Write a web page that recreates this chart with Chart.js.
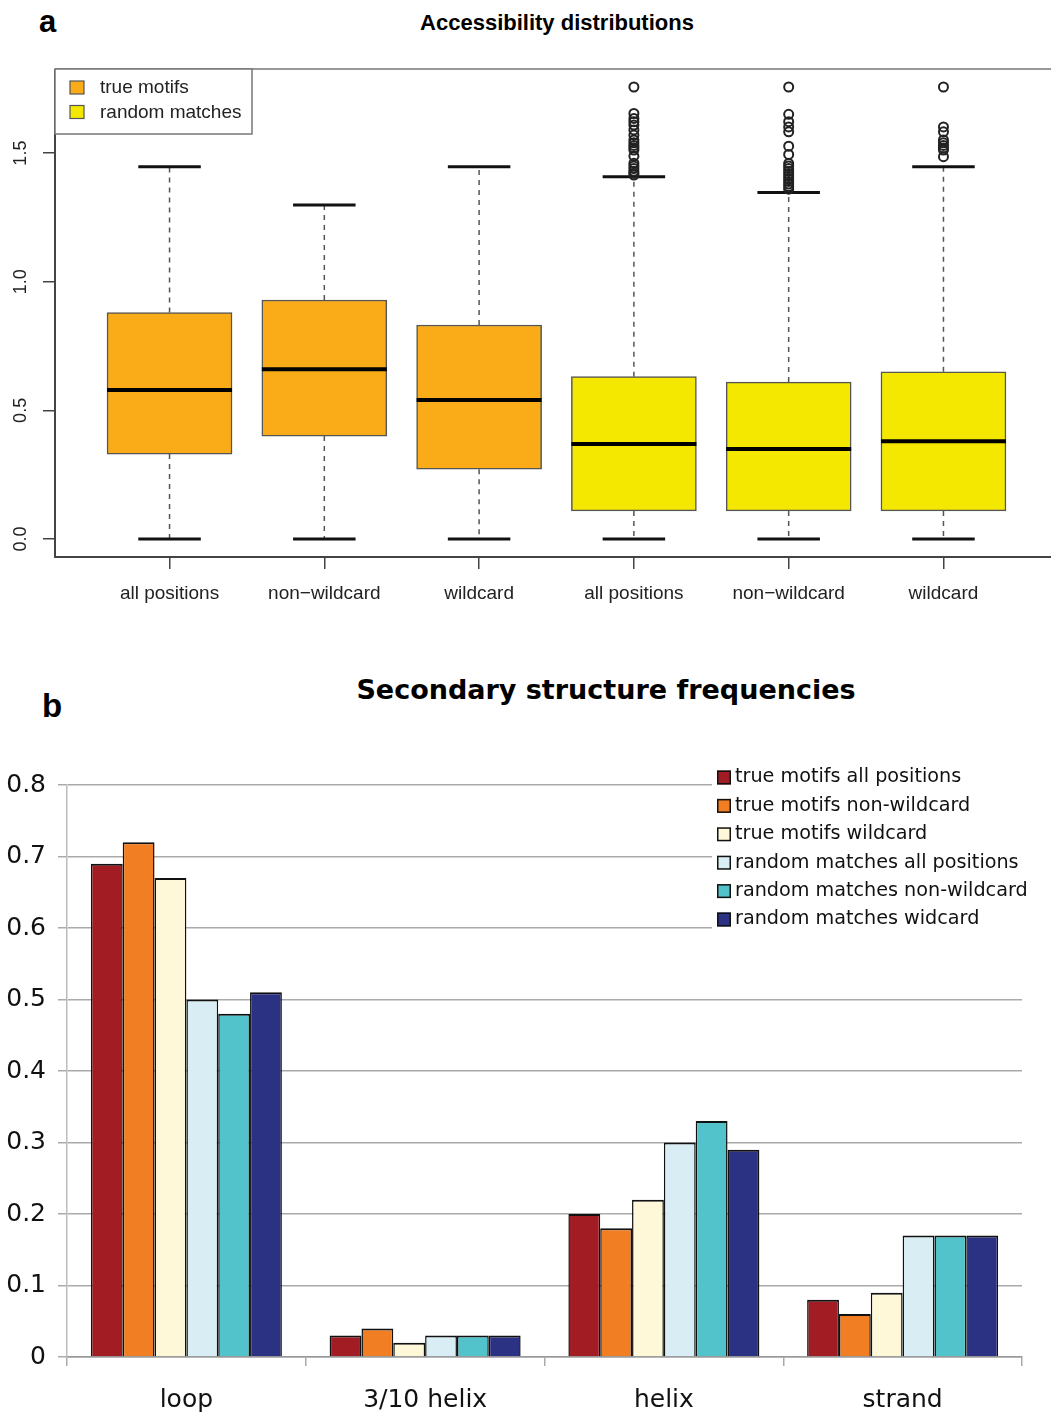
<!DOCTYPE html>
<html>
<head>
<meta charset="utf-8">
<script src="https://cdn.jsdelivr.net/npm/chart.js@4.4.1/dist/chart.umd.min.js"></script>
<style>
  html, body { margin: 0; padding: 0; background: #fff; width: 1051px; height: 1414px; overflow: hidden; }
  #wrap { position: relative; width: 1051px; height: 1414px; overflow: hidden; }
  .txt { position: absolute; white-space: nowrap; color: #000; line-height: 1; }
  canvas { position: absolute; left: 0; }
</style>
</head>
<body>
<div id="wrap">
  <div class="txt" style="left:39px; top:4px; font: bold 31px 'Liberation Sans', Arial, sans-serif;">a</div>
  <div class="txt" style="left:0; width:1114px; text-align:center; top:10px; font: bold 22px 'Liberation Sans', Arial, sans-serif;">Accessibility distributions</div>
  <canvas id="boxChart" width="1070" height="640" style="top:0;"></canvas>

  <div class="txt" style="left:42px; top:687px; font: bold 33px 'Liberation Sans', Arial, sans-serif;">b</div>
  <div class="txt" style="left:0; width:1212px; text-align:center; top:674px; font: bold 27px 'DejaVu Sans', Verdana, sans-serif;">Secondary structure frequencies</div>
  <canvas id="ssChart" width="1051" height="674" style="top:740px;"></canvas>
</div>

<script>
// --- panel a: accessibility boxplots ---
const boxLabels = ['all positions', 'non\u2212wildcard', 'wildcard', 'all positions', 'non\u2212wildcard', 'wildcard'];
const boxGroups = ['true motifs', 'random matches'];
const boxGroupIndex = [0, 0, 0, 1, 1, 1];
const boxLow = [0, 0, 0, 0, 0, 0];
const boxQ1 = [0.33, 0.40, 0.271, 0.109, 0.109, 0.109];
const boxMedian = [0.579, 0.66, 0.54, 0.369, 0.35, 0.38];
const boxQ3 = [0.88, 0.929, 0.832, 0.631, 0.61, 0.65];
const boxHigh = [1.447, 1.298, 1.447, 1.408, 1.347, 1.447];
const boxOutliers = [
  [],
  [],
  [],
  [1.757, 1.654, 1.635, 1.622, 1.609, 1.59, 1.57, 1.551, 1.54, 1.53, 1.521, 1.512, 1.488, 1.461, 1.45, 1.44, 1.43, 1.422, 1.415],
  [1.757, 1.651, 1.622, 1.602, 1.583, 1.527, 1.495, 1.46, 1.45, 1.44, 1.43, 1.42, 1.41, 1.40, 1.39, 1.38, 1.37, 1.36],
  [1.757, 1.602, 1.583, 1.551, 1.54, 1.53, 1.52, 1.512, 1.486],
];
const boxTicks = [0, 0.5, 1.0, 1.5];
const groupColors = ['#FAAC18', '#F4E800'];

// --- panel b: secondary structure frequencies ---
const ssCategories = ['loop', '3/10 helix', 'helix', 'strand'];
const ssSeries = [
  'true motifs all positions',
  'true motifs non-wildcard',
  'true motifs wildcard',
  'random matches all positions',
  'random matches non-wildcard',
  'random matches widcard',
];
const ssTrueAll = [0.69, 0.03, 0.20, 0.08];
const ssTrueNonWild = [0.72, 0.04, 0.18, 0.06];
const ssTrueWild = [0.67, 0.02, 0.22, 0.09];
const ssRandAll = [0.50, 0.03, 0.30, 0.17];
const ssRandNonWild = [0.48, 0.03, 0.33, 0.17];
const ssRandWild = [0.51, 0.03, 0.29, 0.17];
const ssColors = ['#A11C23', '#F17E22', '#FEF8D8', '#D8EEF4', '#53C3CB', '#2B3284'];

const FONT_A = "'Liberation Sans', Arial, sans-serif";
const FONT_B = "'DejaVu Sans', Verdana, sans-serif";

// whiskers, medians, outliers, frame, rotated y labels, legend
const boxExtras = {
  id: 'boxExtras',
  afterDatasetsDraw(chart) {
    const { ctx, chartArea: area, scales: { x, y } } = chart;
    const bars = chart.getDatasetMeta(0).data;
    ctx.save();

    boxLabels.forEach((lbl, i) => {
      const cx = x.getPixelForValue(i + 1);
      const w = bars[i].width;
      // dashed whiskers
      ctx.strokeStyle = '#555';
      ctx.lineWidth = 1.5;
      ctx.setLineDash([5, 5]);
      ctx.beginPath();
      ctx.moveTo(cx, y.getPixelForValue(boxQ3[i]));
      ctx.lineTo(cx, y.getPixelForValue(boxHigh[i]));
      ctx.moveTo(cx, y.getPixelForValue(boxQ1[i]));
      ctx.lineTo(cx, y.getPixelForValue(boxLow[i]));
      ctx.stroke();
      ctx.setLineDash([]);
      // caps
      ctx.strokeStyle = '#111';
      ctx.lineWidth = 3;
      ctx.beginPath();
      ctx.moveTo(cx - w / 4, y.getPixelForValue(boxHigh[i]));
      ctx.lineTo(cx + w / 4, y.getPixelForValue(boxHigh[i]));
      ctx.moveTo(cx - w / 4, y.getPixelForValue(boxLow[i]));
      ctx.lineTo(cx + w / 4, y.getPixelForValue(boxLow[i]));
      ctx.stroke();
      // median
      ctx.lineWidth = 4;
      ctx.strokeStyle = '#000';
      ctx.beginPath();
      ctx.moveTo(cx - w / 2, y.getPixelForValue(boxMedian[i]));
      ctx.lineTo(cx + w / 2, y.getPixelForValue(boxMedian[i]));
      ctx.stroke();
      // outliers
      ctx.lineWidth = 2;
      ctx.strokeStyle = '#222';
      boxOutliers[i].forEach(v => {
        ctx.beginPath();
        ctx.arc(cx, y.getPixelForValue(v), 4.5, 0, Math.PI * 2);
        ctx.stroke();
      });
    });

    // plot frame
    ctx.lineWidth = 2;
    ctx.strokeStyle = '#999';
    ctx.beginPath();
    ctx.moveTo(area.left, area.top);
    ctx.lineTo(area.right, area.top);
    ctx.stroke();
    ctx.strokeStyle = '#444';
    ctx.beginPath();
    ctx.moveTo(area.left, area.top);
    ctx.lineTo(area.left, area.bottom);
    ctx.lineTo(area.right, area.bottom);
    ctx.stroke();

    // rotated y tick labels
    ctx.fillStyle = '#222';
    ctx.font = '18px ' + FONT_A;
    ctx.textAlign = 'center';
    ctx.textBaseline = 'middle';
    y.ticks.forEach(t => {
      ctx.save();
      ctx.translate(21, y.getPixelForValue(t.value));
      ctx.rotate(-Math.PI / 2);
      ctx.fillText(t.value.toFixed(1), 0, 0);
      ctx.restore();
    });

    // legend
    ctx.fillStyle = '#fff';
    ctx.fillRect(area.left, area.top, 197, 65);
    ctx.strokeStyle = '#777';
    ctx.lineWidth = 1.5;
    ctx.strokeRect(area.left, area.top, 197, 65);
    ctx.font = '19px ' + FONT_A;
    ctx.textAlign = 'left';
    boxGroups.forEach((g, k) => {
      const ry = area.top + 19 + k * 24.5;
      ctx.fillStyle = groupColors[k];
      ctx.fillRect(area.left + 15, ry - 7, 14, 13);
      ctx.strokeStyle = '#555';
      ctx.lineWidth = 1.2;
      ctx.strokeRect(area.left + 15, ry - 7, 14, 13);
      ctx.fillStyle = '#222';
      ctx.fillText(g, area.left + 45, ry);
    });
    ctx.restore();
  },
};

new Chart(document.getElementById('boxChart'), {
  type: 'bar',
  data: {
    datasets: [{
      data: boxLabels.map((l, i) => ({ x: i + 1, y: [boxQ1[i], boxQ3[i]] })),
      backgroundColor: boxGroupIndex.map(g => groupColors[g]),
      borderColor: '#555',
      borderWidth: 1.5,
      borderSkipped: false,
      barThickness: 125,
    }],
  },
  options: {
    responsive: false,
    animation: false,
    devicePixelRatio: 1,
    layout: { padding: { top: 69, right: 12, left: 0, bottom: 0 } },
    plugins: { legend: { display: false }, tooltip: { enabled: false } },
    scales: {
      x: {
        type: 'linear',
        min: 0.26,
        max: 6.74,
        offset: false,
        afterBuildTicks: s => { s.ticks = boxLabels.map((l, i) => ({ value: i + 1 })); },
        afterFit: s => { s.height = 83; },
        grid: { drawOnChartArea: false, offset: false, tickLength: 12, color: '#444', lineWidth: 1.5 },
        border: { display: false },
        ticks: {
          callback: v => boxLabels[v - 1],
          font: { family: FONT_A, size: 19 },
          color: '#222',
          padding: 13,
          maxRotation: 0,
          autoSkip: false,
        },
      },
      y: {
        min: -0.07,
        max: 1.827,
        afterBuildTicks: s => { s.ticks = boxTicks.map(v => ({ value: v })); },
        afterFit: s => { s.width = 55; },
        grid: { drawOnChartArea: false, tickLength: 12, color: '#444', lineWidth: 1.5 },
        border: { display: false },
        ticks: { display: false },
      },
    },
  },
  plugins: [boxExtras],
});

// legend for panel b, drawn over the top gridlines
const ssLegend = {
  id: 'ssLegend',
  afterDatasetsDraw(chart) {
    const { ctx } = chart;
    ctx.save();
    ctx.fillStyle = '#fff';
    ctx.fillRect(712, 25, 339, 170);
    ctx.font = '19.2px ' + FONT_B;
    ctx.textAlign = 'left';
    ctx.textBaseline = 'middle';
    ssSeries.forEach((name, k) => {
      const ry = 37.5 + k * 28.4;
      ctx.fillStyle = ssColors[k];
      ctx.fillRect(717, ry - 7, 14, 14);
      ctx.strokeStyle = '#111';
      ctx.lineWidth = 1.5;
      ctx.strokeRect(717.75, ry - 6.25, 12.5, 12.5);
      ctx.fillStyle = '#111';
      ctx.fillText(name, 735, ry);
    });
    ctx.restore();
  },
};

const ssValues = [ssTrueAll, ssTrueNonWild, ssTrueWild, ssRandAll, ssRandNonWild, ssRandWild];

new Chart(document.getElementById('ssChart'), {
  type: 'bar',
  data: {
    labels: ssCategories,
    datasets: ssValues.map((vals, k) => ({
      label: ssSeries[k],
      data: vals,
      backgroundColor: ssColors[k],
      borderColor: '#111',
      borderWidth: { top: 2, left: 1.5, right: 1.5, bottom: 0 },
      borderSkipped: false,
      categoryPercentage: 0.8,
      barPercentage: 1.0,
    })),
  },
  options: {
    responsive: false,
    animation: false,
    devicePixelRatio: 1,
    layout: { padding: { top: 45, right: 29, left: 0, bottom: 0 } },
    plugins: { legend: { display: false }, tooltip: { enabled: false } },
    scales: {
      x: {
        afterFit: s => { s.height = 57; },
        grid: { drawOnChartArea: false, tickLength: 9, color: '#aaa', lineWidth: 1.5, offset: true },
        border: { color: '#999', width: 1.5 },
        ticks: { font: { family: FONT_B, size: 25 }, color: '#111', padding: 19 },
      },
      y: {
        min: 0,
        max: 0.8,
        afterFit: s => { s.width = 67; },
        grid: { color: '#aaa', lineWidth: 1.5, tickLength: 9 },
        border: { color: '#bbb', width: 1.5 },
        ticks: {
          stepSize: 0.1,
          callback: v => v === 0 ? '0' : v.toFixed(1),
          font: { family: FONT_B, size: 25 },
          color: '#111',
          padding: 12,
        },
      },
    },
  },
  plugins: [ssLegend],
});
</script>
</body>
</html>
